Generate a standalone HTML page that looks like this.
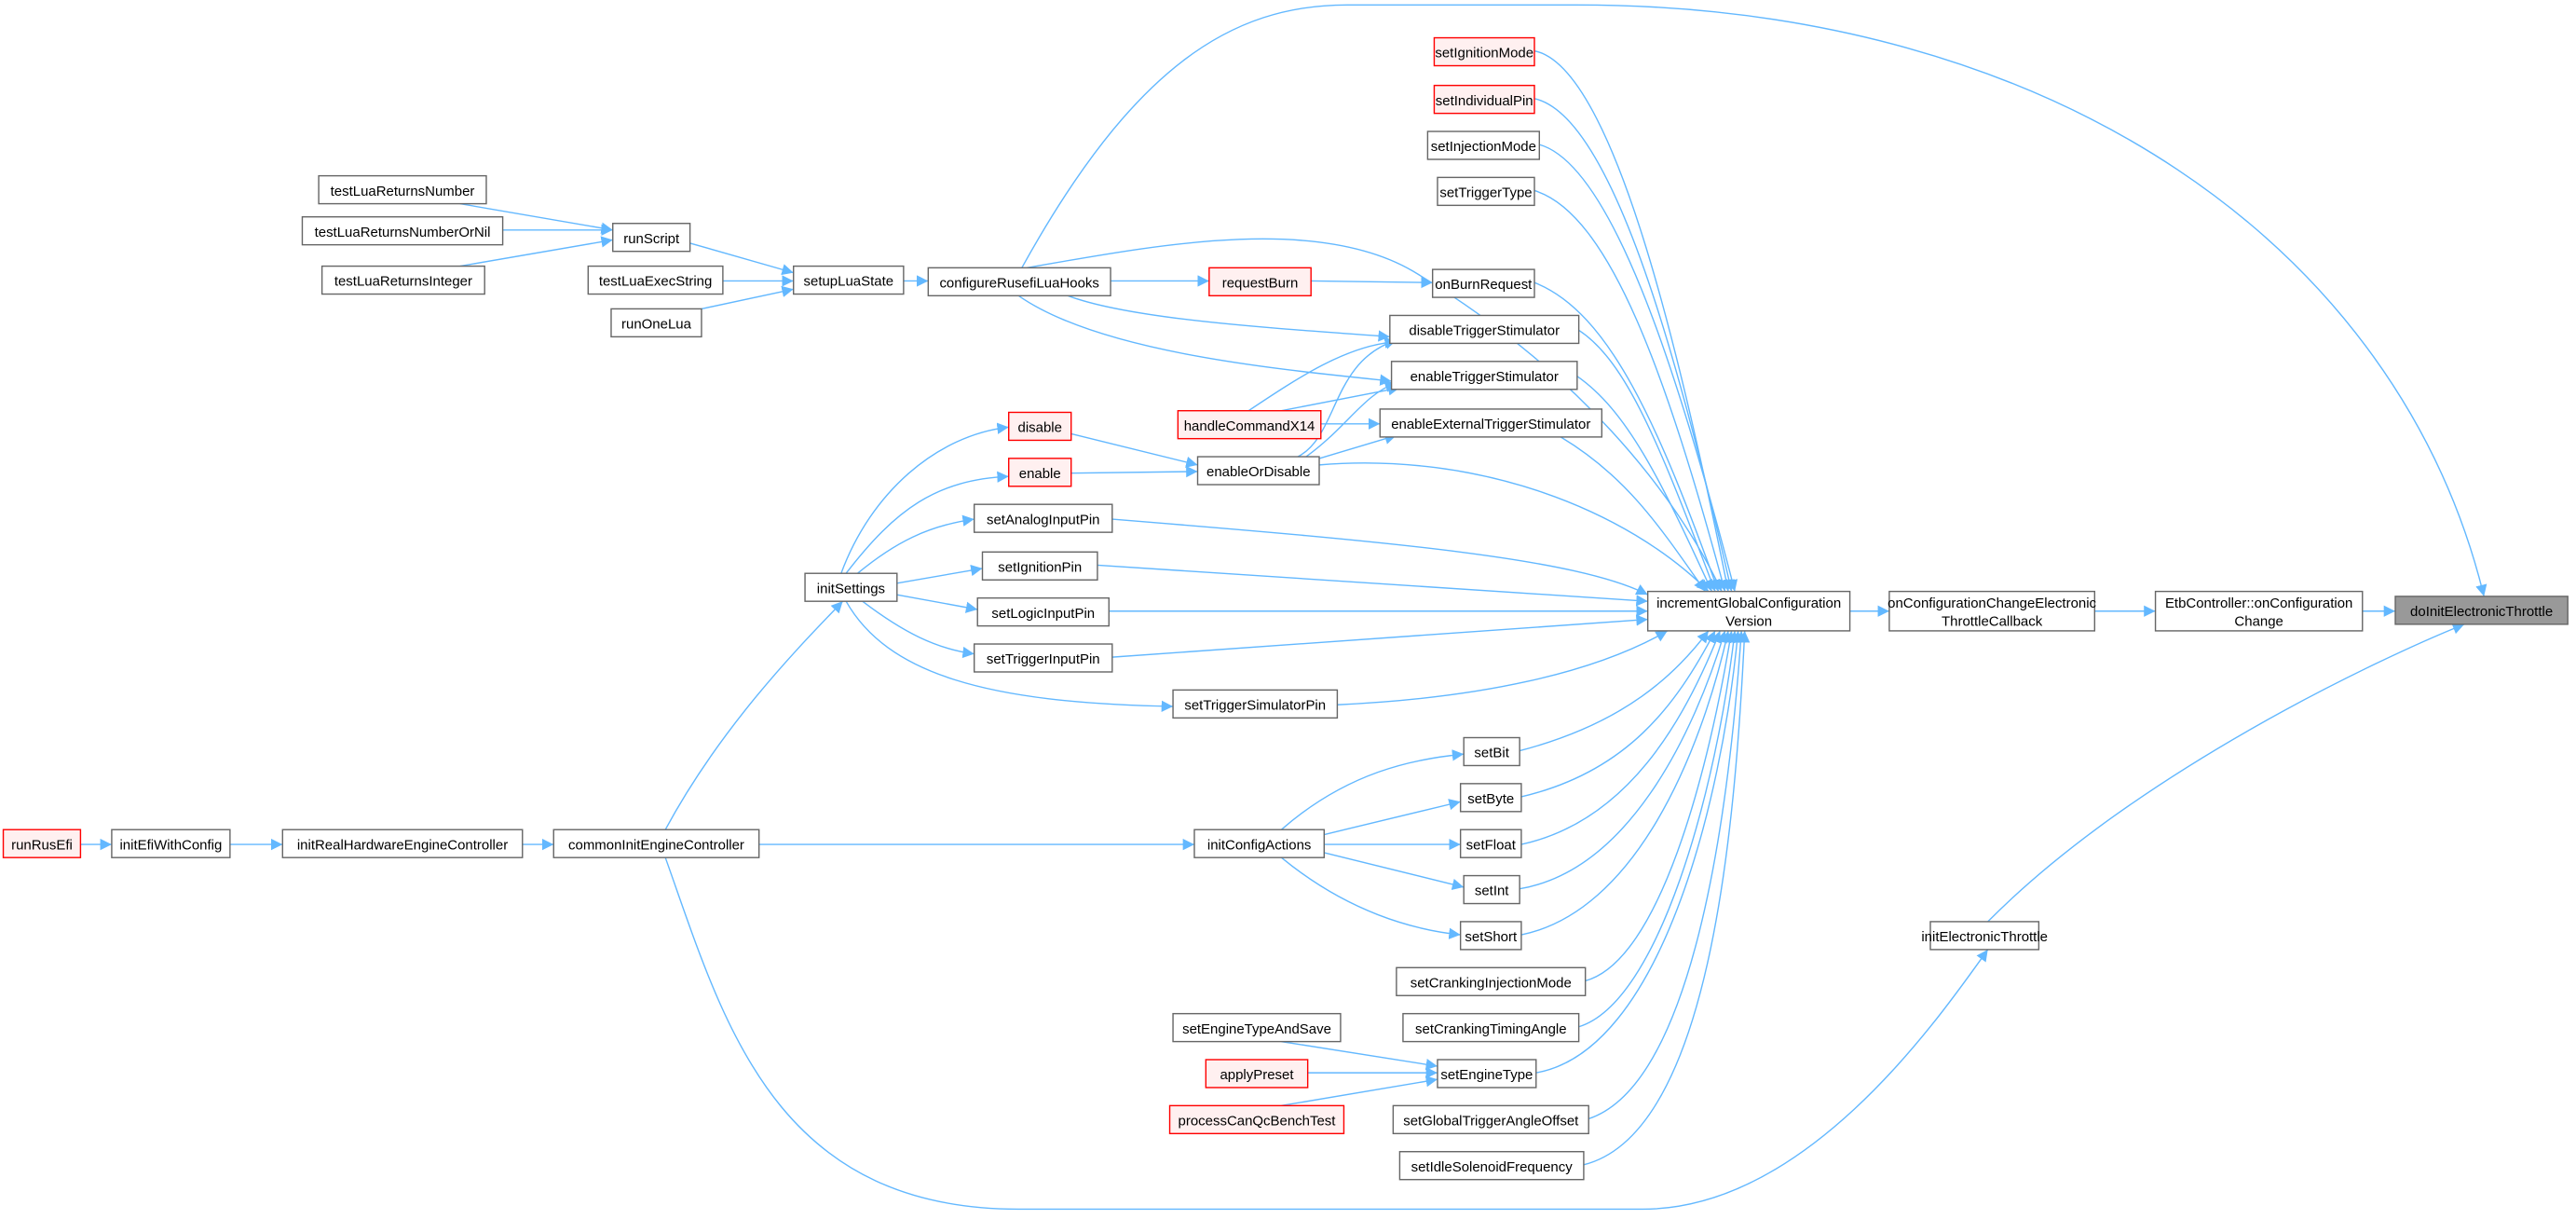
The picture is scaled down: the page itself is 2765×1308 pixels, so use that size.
<!DOCTYPE html>
<html><head><meta charset="utf-8"><style>
html,body{margin:0;padding:0;background:#fff}
svg{display:block}
text{font-family:"Liberation Sans","DejaVu Sans",sans-serif;font-size:8.5px;fill:#000}
.n{fill:#fff;stroke:#666;stroke-width:0.8}
.r{fill:#fff0f0;stroke:#f00;stroke-width:0.8}
.g{fill:#999;stroke:#666;stroke-width:0.8}
path.e{fill:none;stroke:#63b8ff;stroke-width:0.8;marker-end:url(#a)}
</style></head><body>
<svg width="2765" height="1308" viewBox="0 0 1568 742" preserveAspectRatio="none" xmlns="http://www.w3.org/2000/svg">
<defs><marker id="a" markerUnits="userSpaceOnUse" markerWidth="8" markerHeight="8" refX="7" refY="3.5" orient="auto"><path d="M0,0 L7,3.5 L0,7z" fill="#63b8ff"/></marker></defs>
<g>
<path class="e" d="M49,514 L68,514"/>
<path class="e" d="M140,514 L172,514"/>
<path class="e" d="M318,514 L337,514"/>
<path class="e" d="M462,514 L727,514"/>
<path class="e" d="M405,505 C440,440 490,390 513,366"/>
<path class="e" d="M405,522 C440,620 470,736 620,736 L1000,736 C1100,736 1180,620 1210,578"/>
<path class="e" d="M1210,561 C1300,470 1450,400 1500,380"/>
<path class="e" d="M622,163 C690,40 750,3 820,3 L960,3 C1250,3 1460,150 1512,363"/>
<path class="e" d="M280,124 L373,140"/>
<path class="e" d="M306,140 L373,140"/>
<path class="e" d="M280,162 L373,146"/>
<path class="e" d="M420,148 L483,166"/>
<path class="e" d="M440,171 L483,171"/>
<path class="e" d="M427,188 L483,176"/>
<path class="e" d="M550,171 L565,171"/>
<path class="e" d="M676,171 L736,171"/>
<path class="e" d="M798,171 L872,172"/>
<path class="e" d="M650,180 C690,195 780,200 846,205"/>
<path class="e" d="M620,180 C670,215 780,225 847,232"/>
<path class="e" d="M625,163 C700,150 800,130 860,165 C960,225 1020,300 1048,360"/>
<path class="e" d="M760,250 C790,230 820,210 850,208"/>
<path class="e" d="M780,250 L852,236"/>
<path class="e" d="M804,258 L840,258"/>
<path class="e" d="M652,264 L729,283"/>
<path class="e" d="M652,288 L729,287"/>
<path class="e" d="M790,278 C815,265 810,220 850,207"/>
<path class="e" d="M795,278 C820,260 830,240 850,233"/>
<path class="e" d="M800,280 L850,265"/>
<path class="e" d="M803,283 C900,275 990,310 1040,360"/>
<path class="e" d="M512,349 C530,300 570,265 614,260"/>
<path class="e" d="M515,349 C545,310 570,292 614,290"/>
<path class="e" d="M522,349 C545,330 565,320 593,316"/>
<path class="e" d="M546,355 L598,346"/>
<path class="e" d="M546,362 L595,371"/>
<path class="e" d="M525,366 C550,385 570,395 593,398"/>
<path class="e" d="M515,366 C540,410 600,428 714,430"/>
<path class="e" d="M677,316 C850,330 960,340 1003,362"/>
<path class="e" d="M668,344 L1003,366"/>
<path class="e" d="M675,372 L1003,372"/>
<path class="e" d="M677,400 L1003,377"/>
<path class="e" d="M814,429 C900,425 970,410 1015,384"/>
<path class="e" d="M934,31 C980,40 1020,200 1052,360"/>
<path class="e" d="M934,60 C980,70 1020,210 1054,360"/>
<path class="e" d="M937,88 C980,100 1020,220 1056,360"/>
<path class="e" d="M934,116 C980,130 1015,230 1050,360"/>
<path class="e" d="M934,172 C980,190 1010,260 1046,360"/>
<path class="e" d="M961,201 C990,220 1010,270 1044,360"/>
<path class="e" d="M960,229 C990,250 1010,290 1042,360"/>
<path class="e" d="M950,266 C990,290 1010,320 1038,360"/>
<path class="e" d="M925,457 C990,440 1020,410 1040,384"/>
<path class="e" d="M926,485 C990,470 1020,430 1044,384"/>
<path class="e" d="M926,514 C990,500 1025,440 1047,384"/>
<path class="e" d="M925,541 C990,530 1030,450 1050,384"/>
<path class="e" d="M926,569 C995,555 1035,460 1052,384"/>
<path class="e" d="M965,597 C1010,585 1040,470 1054,384"/>
<path class="e" d="M961,625 C1010,610 1045,480 1056,384"/>
<path class="e" d="M935,653 C1010,640 1048,490 1058,384"/>
<path class="e" d="M967,681 C1030,660 1052,500 1060,384"/>
<path class="e" d="M964,709 C1040,690 1056,510 1062,384"/>
<path class="e" d="M780,505 C820,470 860,462 891,459"/>
<path class="e" d="M806,508 L889,488"/>
<path class="e" d="M806,514 L889,514"/>
<path class="e" d="M806,519 L891,540"/>
<path class="e" d="M780,522 C820,555 860,566 889,569"/>
<path class="e" d="M780,634 L875,649"/>
<path class="e" d="M796,653 L875,653"/>
<path class="e" d="M780,673 L875,657"/>
<path class="e" d="M1126,372 L1150,372"/>
<path class="e" d="M1275,372 L1312,372"/>
<path class="e" d="M1438,372 L1458,372"/>
</g>
<g text-anchor="middle">
<rect class="r" x="2" y="505" width="47" height="17"/><text x="25.5" y="517">runRusEfi</text>
<rect class="n" x="68" y="505" width="72" height="17"/><text x="104" y="517">initEfiWithConfig</text>
<rect class="n" x="172" y="505" width="146" height="17"/><text x="245" y="517">initRealHardwareEngineController</text>
<rect class="n" x="337" y="505" width="125" height="17"/><text x="399.5" y="517">commonInitEngineController</text>
<rect class="n" x="490" y="349" width="56" height="17"/><text x="518" y="361">initSettings</text>
<rect class="n" x="194" y="107" width="102" height="17"/><text x="245" y="119">testLuaReturnsNumber</text>
<rect class="n" x="184" y="132" width="122" height="17"/><text x="245" y="144">testLuaReturnsNumberOrNil</text>
<rect class="n" x="196" y="162" width="99" height="17"/><text x="245.5" y="174">testLuaReturnsInteger</text>
<rect class="n" x="373" y="136" width="47" height="17"/><text x="396.5" y="148">runScript</text>
<rect class="n" x="358" y="162" width="82" height="17"/><text x="399" y="174">testLuaExecString</text>
<rect class="n" x="372" y="188" width="55" height="17"/><text x="399.5" y="200">runOneLua</text>
<rect class="n" x="483" y="162" width="67" height="17"/><text x="516.5" y="174">setupLuaState</text>
<rect class="n" x="565" y="163" width="111" height="17"/><text x="620.5" y="175">configureRusefiLuaHooks</text>
<rect class="r" x="736" y="163" width="62" height="17"/><text x="767" y="175">requestBurn</text>
<rect class="n" x="872" y="164" width="62" height="17"/><text x="903" y="176">onBurnRequest</text>
<rect class="r" x="873" y="23" width="61" height="17"/><text x="903.5" y="35">setIgnitionMode</text>
<rect class="r" x="873" y="52" width="61" height="17"/><text x="903.5" y="64">setIndividualPin</text>
<rect class="n" x="869" y="80" width="68" height="17"/><text x="903" y="92">setInjectionMode</text>
<rect class="n" x="875" y="108" width="59" height="17"/><text x="904.5" y="120">setTriggerType</text>
<rect class="n" x="846" y="192" width="115" height="17"/><text x="903.5" y="204">disableTriggerStimulator</text>
<rect class="n" x="847" y="220" width="113" height="17"/><text x="903.5" y="232">enableTriggerStimulator</text>
<rect class="n" x="840" y="249" width="135" height="17"/><text x="907.5" y="261">enableExternalTriggerStimulator</text>
<rect class="r" x="717" y="250" width="87" height="17"/><text x="760.5" y="262">handleCommandX14</text>
<rect class="r" x="614" y="251" width="38" height="17"/><text x="633" y="263">disable</text>
<rect class="r" x="614" y="279" width="38" height="17"/><text x="633" y="291">enable</text>
<rect class="n" x="729" y="278" width="74" height="17"/><text x="766" y="290">enableOrDisable</text>
<rect class="n" x="593" y="307" width="84" height="17"/><text x="635" y="319">setAnalogInputPin</text>
<rect class="n" x="598" y="336" width="70" height="17"/><text x="633" y="348">setIgnitionPin</text>
<rect class="n" x="595" y="364" width="80" height="17"/><text x="635" y="376">setLogicInputPin</text>
<rect class="n" x="593" y="392" width="84" height="17"/><text x="635" y="404">setTriggerInputPin</text>
<rect class="n" x="714" y="420" width="100" height="17"/><text x="764" y="432">setTriggerSimulatorPin</text>
<rect class="n" x="891" y="449" width="34" height="17"/><text x="908" y="461">setBit</text>
<rect class="n" x="889" y="477" width="37" height="17"/><text x="907.5" y="489">setByte</text>
<rect class="n" x="889" y="505" width="37" height="17"/><text x="907.5" y="517">setFloat</text>
<rect class="n" x="891" y="533" width="34" height="17"/><text x="908" y="545">setInt</text>
<rect class="n" x="889" y="561" width="37" height="17"/><text x="907.5" y="573">setShort</text>
<rect class="n" x="727" y="505" width="79" height="17"/><text x="766.5" y="517">initConfigActions</text>
<rect class="n" x="850" y="589" width="115" height="17"/><text x="907.5" y="601">setCrankingInjectionMode</text>
<rect class="n" x="854" y="617" width="107" height="17"/><text x="907.5" y="629">setCrankingTimingAngle</text>
<rect class="n" x="714" y="617" width="102" height="17"/><text x="765" y="629">setEngineTypeAndSave</text>
<rect class="r" x="734" y="645" width="62" height="17"/><text x="765" y="657">applyPreset</text>
<rect class="r" x="712" y="673" width="106" height="17"/><text x="765" y="685">processCanQcBenchTest</text>
<rect class="n" x="875" y="645" width="60" height="17"/><text x="905" y="657">setEngineType</text>
<rect class="n" x="848" y="673" width="119" height="17"/><text x="907.5" y="685">setGlobalTriggerAngleOffset</text>
<rect class="n" x="852" y="701" width="112" height="17"/><text x="908" y="713">setIdleSolenoidFrequency</text>
<rect class="n" x="1175" y="561" width="66" height="17"/><text x="1208" y="573">initElectronicThrottle</text>
<rect class="n" x="1003" y="360" width="123" height="24"/><text x="1064.5" y="370">incrementGlobalConfiguration</text><text x="1064.5" y="381">Version</text>
<rect class="n" x="1150" y="360" width="125" height="24"/><text x="1212.5" y="370">onConfigurationChangeElectronic</text><text x="1212.5" y="381">ThrottleCallback</text>
<rect class="n" x="1312" y="360" width="126" height="24"/><text x="1375" y="370">EtbController::onConfiguration</text><text x="1375" y="381">Change</text>
<rect class="g" x="1458" y="363" width="105" height="17"/><text x="1510.5" y="375">doInitElectronicThrottle</text>
</g>
</svg>
</body></html>
